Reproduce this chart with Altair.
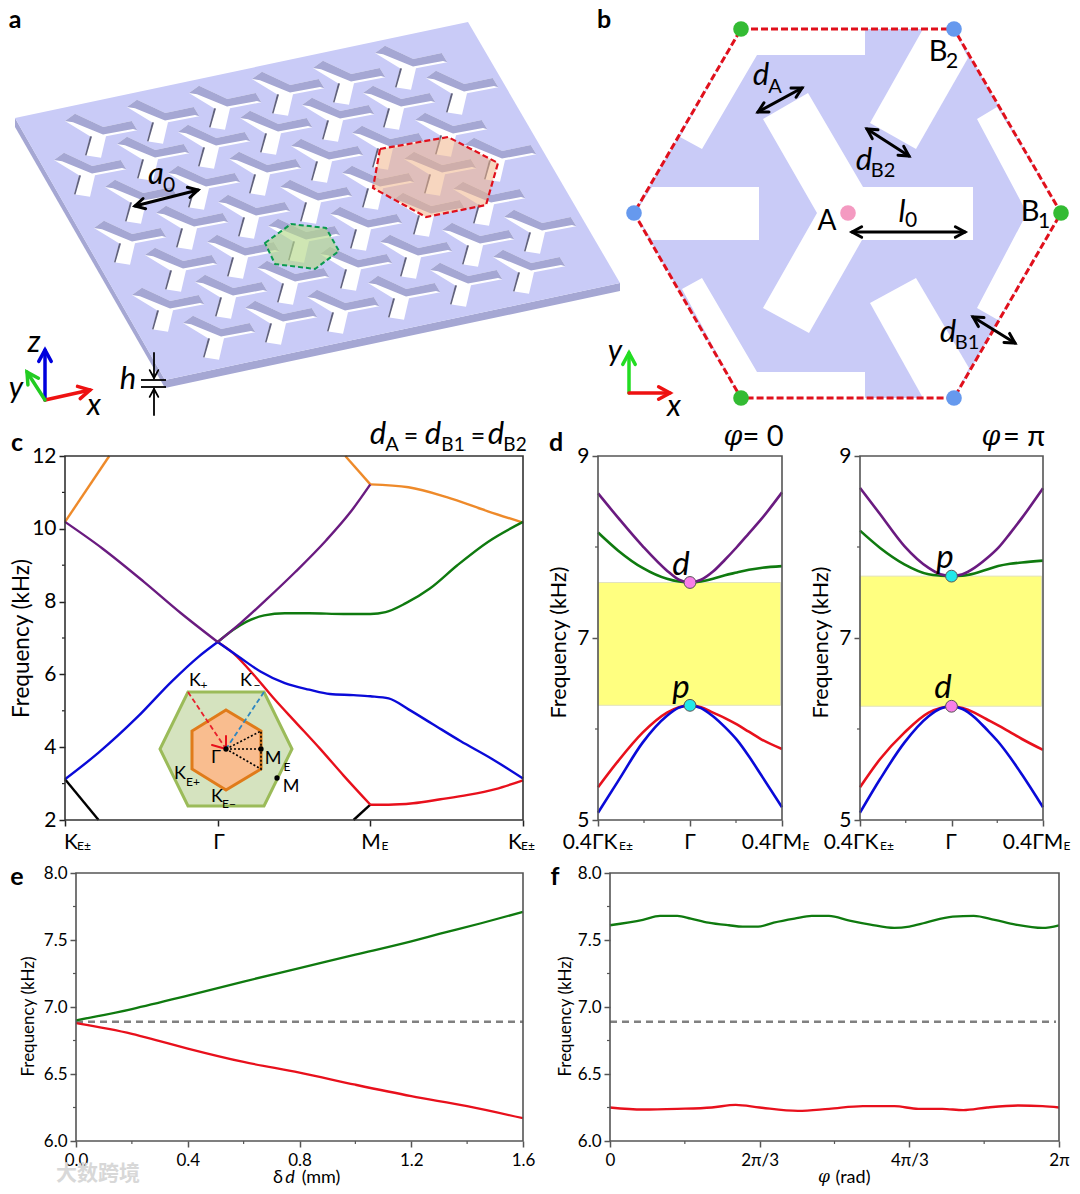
import math
import altair as alt
import pandas as pd

FONT = "Lato"
# ---------- panel c band data (path coordinate, kHz) ----------
C_BLUE_L = [(0, 3.12), (0.22, 3.85), (0.47, 4.81), (0.70, 5.81), (0.876, 6.49), (1, 6.89)]
C_BLUE_R = [(1, 6.89), (1.15, 6.45), (1.28, 6.08), (1.44, 5.76), (1.6, 5.58), (1.735, 5.46), (1.89, 5.43), (2, 5.40),
            (2.12, 5.34), (2.25, 5.04), (2.41, 4.63), (2.59, 4.17), (2.80, 3.67), (3, 3.14)]
C_RED_A = [(1, 6.89), (1.10, 6.59), (1.24, 5.97), (1.37, 5.33), (1.51, 4.69), (1.67, 3.96), (1.825, 3.22), (2, 2.42)]
C_RED_B = [(2, 2.42), (2.12, 2.42), (2.28, 2.46), (2.46, 2.57), (2.64, 2.69), (2.82, 2.85), (3, 3.09)]
C_GREEN = [(1, 6.89), (1.10, 7.22), (1.19, 7.45), (1.305, 7.62), (1.44, 7.68), (1.6, 7.68), (1.825, 7.66), (2, 7.66),
           (2.1, 7.71), (2.23, 7.95), (2.39, 8.36), (2.57, 9.0), (2.77, 9.64), (3, 10.19)]
C_PURPLE_L = [(0, 10.19), (0.245, 9.46), (0.515, 8.55), (0.76, 7.68), (1, 6.89)]
C_PURPLE_R = [(1, 6.89), (1.15, 7.41), (1.32, 8.06), (1.51, 8.82), (1.71, 9.68), (1.87, 10.46), (2, 11.22)]
C_ORANGE_L = [(0, 10.19), (0.29, 12)]
C_ORANGE_M = [(1.836, 12), (2, 11.22)]
C_ORANGE_R = [(2, 11.22), (2.25, 11.14), (2.5, 10.87), (2.77, 10.48), (3, 10.17)]
C_BLACK_L = [(0, 3.12), (0.22, 2)]
C_BLACK_R = [(1.89, 2), (2, 2.42)]

# ---------- panel d data ----------
D_X = [-1, -0.78, -0.515, -0.25, -0.12, 0, 0.12, 0.25, 0.38, 0.51, 0.64, 0.77, 1]
D1_PURPLE = [8.59, 8.32, 8.01, 7.74, 7.64, 7.61, 7.64, 7.73, 7.86, 8.00, 8.15, 8.30, 8.60]
D1_GREEN = [8.16, 7.96, 7.77, 7.65, 7.62, 7.61, 7.62, 7.65, 7.69, 7.72, 7.75, 7.77, 7.79]
D1_RED = [5.36, 5.65, 5.96, 6.18, 6.24, 6.26, 6.24, 6.18, 6.12, 6.05, 5.97, 5.89, 5.78]
D1_BLUE = [5.08, 5.43, 5.85, 6.145, 6.235, 6.26, 6.23, 6.14, 6.02, 5.88, 5.70, 5.50, 5.14]
D2_PURPLE = [8.65, 8.36, 8.01, 7.77, 7.70, 7.68, 7.70, 7.77, 7.87, 7.99, 8.15, 8.32, 8.645]
D2_GREEN = [8.18, 7.99, 7.81, 7.70, 7.685, 7.68, 7.685, 7.71, 7.75, 7.79, 7.815, 7.83, 7.85]
D2_RED = [5.36, 5.67, 5.96, 6.18, 6.23, 6.25, 6.23, 6.18, 6.11, 6.04, 5.965, 5.89, 5.77]
D2_BLUE = [5.08, 5.45, 5.85, 6.14, 6.225, 6.25, 6.22, 6.13, 6.0, 5.86, 5.69, 5.50, 5.14]
D1_GAP = (6.26, 7.61)
D2_GAP = (6.25, 7.68)

# ---------- panel e / f data ----------
E_GREEN = [(0, 6.90), (0.2, 6.985), (0.4, 7.085), (0.6, 7.19), (0.8, 7.29), (1.0, 7.39), (1.2, 7.49), (1.3, 7.545),
           (1.45, 7.625), (1.6, 7.71)]
E_RED = [(0, 6.88), (0.2, 6.80), (0.3, 6.745), (0.4, 6.69), (0.6, 6.59), (0.8, 6.51), (1.0, 6.42), (1.2, 6.335),
         (1.4, 6.26), (1.6, 6.17)]
E_DASH = [(0, 6.89), (1.6, 6.89)]
F_GREEN = [(0, 7.61), (0.22, 7.65), (0.334, 7.68), (0.45, 7.68), (0.54, 7.66), (0.657, 7.63), (0.795, 7.61), (0.887, 7.60),
           (0.99, 7.60), (1.094, 7.63), (1.233, 7.66), (1.348, 7.68), (1.463, 7.68), (1.6, 7.645), (1.74, 7.615), (1.90, 7.59),
           (2.0, 7.60), (2.11, 7.63), (2.29, 7.675), (2.43, 7.68), (2.57, 7.65), (2.71, 7.615), (2.89, 7.59), (3, 7.61)]
F_RED = [(0, 6.25), (0.22, 6.235), (0.45, 6.24), (0.68, 6.25), (0.84, 6.27), (1, 6.25), (1.256, 6.225), (1.463, 6.24),
         (1.69, 6.26), (1.9, 6.26), (2.06, 6.24), (2.22, 6.24), (2.36, 6.23), (2.52, 6.25), (2.73, 6.265), (2.89, 6.26), (3, 6.25)]
F_DASH = [(0, 6.89), (2.98, 6.89)]
F_LABELS = ["0", "2π/3", "4π/3", "2π"]

RED, BLUE, GREEN, PURPLE, ORANGE = "#e8101c", "#0a0ad8", "#0f7a0f", "#6a1b80", "#ee8a2a"

# ---------- schematic geometry (page pixels) ----------
PLATE_TOP = [(15, 118), (468, 22), (620, 283), (165, 380)]
PLATE_LEFT = [(15, 118), (15, 127), (165, 388), (165, 380)]
PLATE_FRONT = [(165, 380), (620, 283), (620, 291), (165, 388)]
HOLE_TIPS = [
    (65, 121), (127, 107), (189, 93), (252, 79), (313, 68), (375, 53),
    (54, 160), (117, 144), (178, 132), (240, 118), (302, 105), (363, 93), (426, 78),
    (105, 187), (168, 173), (229, 159), (291, 146), (352, 133), (415, 120),
    (94, 228), (156, 213), (218, 202), (280, 187), (342, 173), (404, 159), (464, 145),
    (145, 255), (207, 242), (268, 226), (330, 214), (393, 200), (453, 189),
    (132, 295), (195, 282), (257, 268), (320, 254), (380, 242), (442, 230), (504, 217),
    (183, 323), (245, 308), (307, 297), (368, 283), (430, 270), (493, 257),
]
HOLE_SHAPE = [(10, -7.3), (38.3, 6), (66.7, 0), (72.3, 9.3), (41, 15.3), (36, 36.7), (20, 34.3), (25, 15.3), (0, 0)]
WALL_SHAPE = [(10, -7.3), (38.3, 6), (66.7, 0), (72.3, 9.3), (68, 8), (38, 13.5), (8, 1.2), (0, 0)]
SLIVER_SHAPE = [(25, 15.3), (20, 34.3), (21.5, 34.5), (27, 15.5)]
RED_HEX_A = [(380, 149), (448, 137), (498, 163), (486, 205), (426, 217), (373, 188)]
GREEN_HEX_A = [(265, 243), (291, 224), (326, 228), (339, 251), (315, 269), (275, 264)]

HEX_B = [(741, 29), (954, 29), (1061, 213), (954, 398), (741, 398), (634, 213)]
WHITE_B = [
    [(808, 93), (863, 187), (973, 187), (973, 240), (862, 240), (809, 333), (763, 308), (817, 213), (763, 119)],
    [(741, 29), (865, 29), (865, 55), (757, 55), (702, 149), (680, 137)],
    [(923, 29), (954, 29), (968, 58), (916, 149), (870, 123)],
    [(997, 107), (977, 119), (1027, 213), (977, 308), (998, 320), (1061, 213)],
    [(916, 278), (870, 303), (923, 398), (954, 398), (969, 368)],
    [(702, 278), (682, 289), (741, 398), (865, 398), (865, 372), (757, 372)],
    [(635, 213), (652, 187), (759, 187), (759, 240), (652, 240)],
]
DOTS_GREEN = [(741, 29), (1061, 213), (741, 398)]
DOTS_BLUE = [(954, 29), (954, 398), (634, 213)]
DOT_PINK = [(848, 213)]

BZ_OUTER = [(188, 692), (264, 692), (292, 749), (264, 806), (188, 806), (160, 749)]
BZ_INNER = [(226, 710), (261, 731), (261, 769), (226, 790), (192, 769), (192, 731)]
BZ_DOTTED = [[(226, 749), (261, 731), (261, 769), (226, 749)], [(226, 749), (261, 749)]]
BZ_DOTS = [(226, 749), (261, 749), (277, 778)]

BLACK_ARROWS = [(135, 206, 198, 190), (758, 112, 802, 88), (867, 129, 909, 156), (852, 232, 965, 232), (973, 317, 1015, 343)]
SINGLE_ARROWS = [
    ("#0000dd", 3.5, 45, 400, 45, 350), ("#ee1111", 3.5, 45, 400, 90, 390), ("#22cc22", 3.5, 45, 400, 27, 372),
    ("#22dd22", 3.5, 629, 393, 629, 353), ("#ee1111", 3.5, 629, 393, 670, 393),
    ("black", 1.8, 154, 353, 154, 378), ("black", 1.8, 154, 415, 154, 389),
]
H_LINES = [[(141, 380), (166, 380)], [(141, 387), (166, 387)]]

# (text, x, y, size, italic)
LABELS = [
    ("a", 156, 175, 31, True), ("0", 169, 186, 21, False), ("z", 34, 343, 30, True), ("y", 16, 389, 30, True),
    ("x", 94, 406, 30, True), ("h", 128, 380, 31, True),
    ("A", 827, 222, 28, False), ("B", 938, 52, 29, False), ("2", 952, 62, 21, False), ("B", 1030, 212, 29, False), ("1", 1044, 222, 21, False),
    ("d", 761, 76, 31, True), ("A", 775, 87, 20, False), ("d", 864, 161, 31, True), ("B2", 883, 171, 20, False),
    ("l", 902, 213, 31, True), ("0", 911, 221, 21, False), ("d", 948, 333, 31, True), ("B1", 967, 343, 20, False),
    ("y", 615, 352, 30, True), ("x", 674, 407, 30, True),
    ("d", 378, 435, 31, True), ("A", 392, 445, 20, False), ("=", 411, 437, 25, False), ("d", 433, 435, 31, True), ("B1", 453, 445, 19, False),
    ("=", 478, 437, 25, False), ("d", 496, 435, 31, True), ("B2", 515, 445, 19, False),
    ("= 0", 763, 437, 29, False), ("= π", 1024, 437, 29, False),
    ("d", 681, 565, 33, True), ("p", 681, 688, 33, True), ("p", 945, 558, 33, True), ("d", 943, 688, 33, True),
    ("K", 195, 681, 18, False), ("+", 204, 685, 12, False), ("K", 246, 681, 18, False), ("−", 257, 685, 12, False),
    ("Γ", 216, 758, 18, False), ("M", 273, 759, 18, False), ("E", 287, 767, 12, False), ("K", 180, 774, 18, False), ("E+", 193, 782, 12, False),
    ("K", 217, 797, 18, False), ("E−", 229, 804, 12, False), ("M", 291, 787, 18, False),
    ("K", 71, 843, 21, False), ("E±", 84, 846, 12, False), ("Γ", 219, 843, 21, False), ("M", 371, 843, 21, False), ("E", 385, 846, 12, False),
    ("K", 515, 843, 21, False), ("E±", 528, 846, 12, False),
    ("0.4ΓK", 590, 843, 21, False), ("E±", 626, 846, 12, False), ("Γ", 690, 843, 21, False), ("0.4ΓM", 772, 843, 21, False), ("E", 806, 846, 12, False),
    ("0.4ΓK", 851, 843, 21, False), ("E±", 887, 846, 12, False), ("Γ", 951, 843, 21, False), ("0.4ΓM", 1033, 843, 21, False), ("E", 1067, 846, 12, False),
    ("δ", 278, 1178, 18, False), ("d", 290, 1178, 18, True), ("(mm)", 321, 1178, 18, False), ("(rad)", 853, 1178, 18, False),
]
PHI_LABELS = [("φ", 733, 437, 27), ("φ", 991, 437, 27), ("φ", 824, 1177, 17)]
PANEL_LETTERS = [("a", 15, 20), ("b", 604, 20), ("c", 17, 443), ("d", 556, 443), ("e", 17, 877), ("f", 555, 877)]
WATERMARK = [("大数跨境", 98, 1174, 21)]

# ---------- canvas layout: one view, page pixels, origin at the page margin ----------
W, H = 1064, 1178
SX = alt.Scale(domain=[8, 1072], nice=False, zero=False)
SY = alt.Scale(domain=[1186, 8], nice=False, zero=False)


def xy():
    return dict(x=alt.X("x:Q", scale=SX, axis=None), y=alt.Y("y:Q", scale=SY, axis=None))


def polys(shapes, fill="transparent", stroke="transparent", width=0, dash=None, fo=1.0):
    rows = [dict(id=k, i=i, x=p[0], y=p[1]) for k, s in enumerate(shapes) for i, p in enumerate(s)]
    kw = dict(interpolate="linear-closed", fill=fill, stroke=stroke, strokeWidth=width, fillOpacity=fo)
    if dash:
        kw["strokeDash"] = dash
    return alt.Chart(pd.DataFrame(rows)).mark_line(**kw).encode(detail="id:N", order="i:Q", **xy())


def paths(shapes, color="black", width=2.0, dash=None, cap="round"):
    rows = [dict(id=k, i=i, x=p[0], y=p[1]) for k, s in enumerate(shapes) for i, p in enumerate(s)]
    kw = dict(stroke=color, strokeWidth=width, strokeCap=cap, strokeJoin="miter")
    if dash:
        kw["strokeDash"] = dash
    return alt.Chart(pd.DataFrame(rows)).mark_line(**kw).encode(detail="id:N", order="i:Q", **xy())


def head(x1, y1, x2, y2, size=11.0):
    a = math.atan2(y2 - y1, x2 - x1)
    return [(x2 - size * math.cos(a - 0.5), y2 - size * math.sin(a - 0.5)), (x2, y2),
            (x2 - size * math.cos(a + 0.5), y2 - size * math.sin(a + 0.5))]


def dots(pts, color, size):
    return alt.Chart(pd.DataFrame(pts, columns=["x", "y"])).mark_point(
        filled=True, fill=color, size=size, opacity=1, strokeWidth=0).encode(**xy())


def text(t, x, y, size=20, italic=False, font=FONT, weight="normal", color="black", align="center"):
    return alt.Chart(pd.DataFrame({"x": [x], "y": [y], "t": [t]})).mark_text(
        font=font, fontSize=size, fontStyle="italic" if italic else "normal", fontWeight=weight,
        color=color, align=align, baseline="middle").encode(text="t:N", **xy())


at = lambda pts, off: [(off[0] + p[0], off[1] + p[1]) for p in pts]
canvas = [
    polys([PLATE_LEFT, PLATE_FRONT], fill="#a5a7d3"),
    polys([PLATE_TOP], fill="#c9cbf7"),
    polys([at(HOLE_SHAPE, t) for t in HOLE_TIPS], fill="white"),
    polys([at(WALL_SHAPE, t) for t in HOLE_TIPS], fill="#a5a7d3"),
    polys([at(SLIVER_SHAPE, t) for t in HOLE_TIPS], fill="#60617e"),
    polys([RED_HEX_A], fill="#f0b48a", fo=0.55),
    polys([RED_HEX_A], stroke="#e0101c", width=2.2, dash=[6, 3]),
    polys([GREEN_HEX_A], fill="#b5d98a", fo=0.65),
    polys([GREEN_HEX_A], stroke="#0a9a50", width=2, dash=[5, 3]),
    polys([HEX_B], fill="#c9cbf7"),
    polys(WHITE_B, fill="white"),
    polys([HEX_B], stroke="#e0101c", width=3, dash=[7, 3]),
    dots(DOTS_GREEN, "#33bb33", 245),
    dots(DOTS_BLUE, "#6699ee", 245),
    dots(DOT_PINK, "#f49ac1", 245),
    polys([BZ_OUTER], fill="#d5e3bf", stroke="#9bbb59", width=3),
    polys([BZ_INNER], fill="#f9bd8f", stroke="#e07b1a", width=3),
    paths(BZ_DOTTED, width=1.6, dash=[2, 2], cap="butt"),
    paths([[(188, 692), (226, 749)]], color="#e8202c", width=1.8, dash=[5, 3], cap="butt"),
    paths([[(264, 692), (226, 749)]], color="#2e86c1", width=1.8, dash=[5, 3], cap="butt"),
    paths([[(226, 749), (226, 736)], [(226, 749), (212, 745)]], color="#e8101c", width=2),
    dots(BZ_DOTS, "black", 28),
    paths(H_LINES, width=1.8, cap="butt"),
]
barbs = []
for (x1, y1, x2, y2) in BLACK_ARROWS:
    barbs += [[(x1, y1), (x2, y2)], head(x1, y1, x2, y2), head(x2, y2, x1, y1)]
canvas.append(paths(barbs, width=3))
for (c, w, x1, y1, x2, y2) in SINGLE_ARROWS:
    canvas.append(paths([[(x1, y1), (x2, y2)], head(x1, y1, x2, y2, 13.0 if w > 2 else 9.0)], color=c, width=w))
top = alt.layer(*canvas)

overlay = []
for (t, x, y, s, it) in LABELS:
    overlay.append(text(t, x, y, s, it))
for (t, x, y, s) in PHI_LABELS:
    overlay.append(text(t, x, y, s, True, font="DejaVu Serif"))
for (t, x, y) in PANEL_LETTERS:
    overlay.append(text(t, x, y, 25, weight="bold"))
for (t, x, y, s) in WATERMARK:
    overlay.append(text(t, x, y, s, font="Noto Sans CJK SC", weight="bold", color="#d8d8d8"))
overlay = alt.layer(*overlay)


# ---------- plots ----------
def curve(pts, color, sx, sy, width=2.4, dash=None, interp="monotone"):
    df = pd.DataFrame(pts, columns=["q", "f"])
    kw = dict(stroke=color, strokeWidth=width, interpolate=interp)
    if dash:
        kw["strokeDash"] = dash
    return alt.Chart(df).mark_line(**kw).encode(x=alt.X("q:Q", scale=sx, axis=None), y=alt.Y("f:Q", scale=sy, axis=None))


def frame(dx, dy, sx, sy, color, width=1.6):
    df = pd.DataFrame({"a": [dx[0]], "b": [dx[1]], "c": [dy[0]], "d": [dy[1]]})
    return alt.Chart(df).mark_rect(fill="transparent", stroke=color, strokeWidth=width).encode(
        x=alt.X("a:Q", scale=sx, axis=None), x2="b:Q", y=alt.Y("c:Q", scale=sy, axis=None), y2="d:Q")


def axes(sx, sy, left, bottom, xvals, yvals, color, lsize, title, tsize, titlex, titley, xlabels=False, xexpr=None, xfmt=None, yfmt=None, pad=4):
    df = pd.DataFrame({"q": [xvals[0]], "f": [yvals[0]]})
    xa = dict(orient="bottom", values=xvals, labels=xlabels, title=None, grid=False, domain=False, tickColor=color, tickSize=6, tickWidth=1.5,
              offset=bottom - H, labelFont=FONT, labelFontSize=lsize, labelColor="black", labelPadding=pad, labelFlush=False, labelOverlap=False)
    if xexpr:
        xa["labelExpr"] = xexpr
    if xfmt:
        xa["format"] = xfmt
    ya = dict(orient="left", values=yvals, title=title, grid=False, domain=False, tickColor=color, tickSize=6, tickWidth=1.5, offset=-left,
              labelFont=FONT, labelFontSize=lsize, labelColor="black", labelPadding=3, labelOverlap=False,
              titleFont=FONT, titleFontSize=tsize, titleFontWeight="normal", titleColor="black", titleX=titlex, titleY=titley)
    if yfmt:
        ya["format"] = yfmt
    return alt.Chart(df).mark_point(opacity=0, size=1).encode(
        x=alt.X("q:Q", scale=sx, axis=alt.Axis(**xa)), y=alt.Y("f:Q", scale=sy, axis=alt.Axis(**ya)))


def minor_y(vals, sy, color, x0):
    return alt.Chart(pd.DataFrame({"f": vals})).mark_rule(stroke=color, strokeWidth=1.2).encode(
        x=alt.value(x0), x2=alt.value(x0 - 3), y=alt.Y("f:Q", scale=sy, axis=None))


def minor_x(vals, sx, color, h):
    return alt.Chart(pd.DataFrame({"q": vals})).mark_rule(stroke=color, strokeWidth=1.2).encode(
        y=alt.value(h), y2=alt.value(h + 3), x=alt.X("q:Q", scale=sx, axis=None))


# all ranges below are pixels of the shared view (page pixel minus the 8px margin)
# panel c
cx = alt.Scale(domain=[0, 3], range=[57, 515], nice=False, zero=False)
cy = alt.Scale(domain=[2, 12], range=[812, 448], nice=False, zero=False)
c_series = [(C_ORANGE_L, ORANGE), (C_ORANGE_M, ORANGE), (C_ORANGE_R, ORANGE), (C_BLACK_L, "black"), (C_BLACK_R, "black"),
            (C_RED_A, RED), (C_RED_B, RED), (C_BLUE_L, BLUE), (C_BLUE_R, BLUE), (C_GREEN, GREEN), (C_PURPLE_L, PURPLE), (C_PURPLE_R, PURPLE)]
panel_c = alt.layer(
    axes(cx, cy, 57, 812, [0, 1, 2, 3], [2, 4, 6, 8, 10, 12], "#222", 21, "Frequency (kHz)", 22.5, -32, 630),
    minor_y([3, 5, 7, 9, 11], cy, "#222", 57),
    *[curve(p, col, cx, cy) for p, col in c_series],
    frame((0, 3), (2, 12), cx, cy, "#333"),
).resolve_axis(x="independent", y="independent")


def panel_d(purple, green, red, blue, gap, gap_col_low, gap_col_high, rng):
    dx = alt.Scale(domain=[-1, 1], range=rng, nice=False, zero=False)
    dy = alt.Scale(domain=[5, 9], range=[812, 448], nice=False, zero=False)
    band = pd.DataFrame({"a": [-1], "b": [0.985], "c": [gap[0]], "d": [gap[1]]})
    pts = pd.DataFrame({"q": [0, 0], "f": list(gap), "col": [gap_col_low, gap_col_high]})
    return alt.layer(
        axes(dx, dy, rng[0], 812, [-1, 0, 1], [5, 7, 9], "#555", 21, "Frequency (kHz)", 21.5, -28, 634),
        minor_y([6, 8], dy, "#555", rng[0]),
        minor_x([-0.5, 0.5], dx, "#555", 812),
        alt.Chart(band).mark_rect(fill="#ffff80", stroke="#e2e2c0", strokeWidth=1).encode(
            x=alt.X("a:Q", scale=dx, axis=None), x2="b:Q", y=alt.Y("c:Q", scale=dy, axis=None), y2="d:Q"),
        curve(list(zip(D_X, red)), RED, dx, dy, 2.6),
        curve(list(zip(D_X, blue)), BLUE, dx, dy, 2.6),
        curve(list(zip(D_X, green)), GREEN, dx, dy, 2.6),
        curve(list(zip(D_X, purple)), PURPLE, dx, dy, 2.6),
        frame((-1, 1), (5, 9), dx, dy, "#555"),
        alt.Chart(pts).mark_point(filled=True, size=140, opacity=1, stroke="#555", strokeWidth=1).encode(
            x=alt.X("q:Q", scale=dx, axis=None), y=alt.Y("f:Q", scale=dy, axis=None),
            fill=alt.Fill("col:N", scale=None)),
    ).resolve_axis(x="independent", y="independent")


panel_d1 = panel_d(D1_PURPLE, D1_GREEN, D1_RED, D1_BLUE, D1_GAP, "#22e8e8", "#f87fe8", [590, 774])
panel_d2 = panel_d(D2_PURPLE, D2_GREEN, D2_RED, D2_BLUE, D2_GAP, "#f87fe8", "#22e8e8", [852, 1035])

# panel e
ex = alt.Scale(domain=[0, 1.6], range=[68, 515], nice=False, zero=False)
ey = alt.Scale(domain=[6, 8], range=[1133, 865], nice=False, zero=False)
panel_e = alt.layer(
    axes(ex, ey, 68, 1133, [0, 0.4, 0.8, 1.2, 1.6], [6, 6.5, 7, 7.5, 8], "#555", 17, "Frequency (kHz)", 17, -39, 1008,
         xlabels=True, xfmt=".1f", yfmt=".1f", pad=5),
    minor_y([6.25, 6.75, 7.25, 7.75], ey, "#555", 68),
    minor_x([0.2, 0.6, 1.0, 1.4], ex, "#555", 1133),
    curve(E_DASH, "#808080", ex, ey, 2.6, dash=[7, 5], interp="linear"),
    curve(E_GREEN, GREEN, ex, ey, 2.3),
    curve(E_RED, RED, ex, ey, 2.3),
    frame((0, 1.6), (6, 8), ex, ey, "#555"),
).resolve_axis(x="independent", y="independent")

# panel f
fx = alt.Scale(domain=[0, 3], range=[602, 1051], nice=False, zero=False)
fy = alt.Scale(domain=[6, 8], range=[1133, 865], nice=False, zero=False)
panel_f = alt.layer(
    axes(fx, fy, 602, 1133, [0, 1, 2, 3], [6, 6.5, 7, 7.5, 8], "#555", 17, "Frequency (kHz)", 17, -36, 1008,
         xlabels=True, xexpr="%s[datum.value]" % str(F_LABELS), yfmt=".1f", pad=5),
    minor_y([6.25, 6.75, 7.25, 7.75], fy, "#555", 602),
    minor_x([0.5, 1.5, 2.5], fx, "#555", 1133),
    curve(F_DASH, "#808080", fx, fy, 2.6, dash=[7, 5], interp="linear"),
    curve(F_GREEN, GREEN, fx, fy, 2.3),
    curve(F_RED, RED, fx, fy, 2.3),
    frame((0, 3), (6, 8), fx, fy, "#555"),
).resolve_axis(x="independent", y="independent")

chart = alt.layer(top, panel_c, panel_d1, panel_d2, panel_e, panel_f, overlay).resolve_scale(
    x="independent", y="independent").resolve_axis(x="independent", y="independent").properties(
    width=W, height=H, padding=0, autosize=alt.AutoSizeParams(type="none", contains="padding")
).configure_view(stroke=None)
chart.save("out.html", embed_options={"renderer": "svg", "actions": False})
